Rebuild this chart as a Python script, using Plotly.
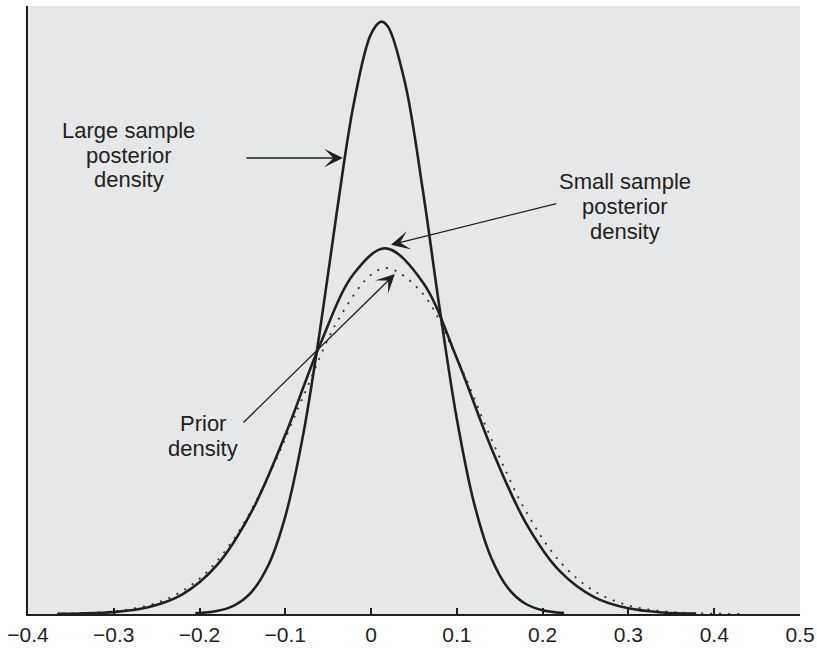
import plotly.graph_objects as go

# ---- data ----
large_x = [-0.205, -0.18, -0.16, -0.14, -0.12, -0.10, -0.08, -0.06, -0.04, -0.02, 0.0, 0.012,
           0.02, 0.04, 0.06, 0.08, 0.10, 0.12, 0.14, 0.16, 0.18, 0.20, 0.225]
large_y = [0.008, 0.034, 0.097, 0.247, 0.558, 1.125, 2.022, 3.239, 4.625, 5.887, 6.680, 6.820,
           6.757, 6.094, 4.898, 3.511, 2.242, 1.277, 0.648, 0.293, 0.118, 0.043, 0.010]

small_x = [-0.366, -0.34, -0.30, -0.26, -0.22, -0.18, -0.14, -0.10, -0.06, -0.02, 0.017,
           0.06, 0.10, 0.14, 0.18, 0.22, 0.26, 0.30, 0.34, 0.379]
small_y = [0.002, 0.006, 0.022, 0.077, 0.226, 0.559, 1.167, 2.064, 3.092, 3.920, 4.210,
           3.823, 2.942, 1.915, 1.056, 0.493, 0.195, 0.065, 0.018, 0.005]

prior_x = [-0.36, -0.32, -0.28, -0.24, -0.20, -0.16, -0.12, -0.08, -0.04, 0.0, 0.02,
           0.06, 0.10, 0.14, 0.18, 0.22, 0.26, 0.30, 0.34, 0.38, 0.43]
prior_y = [0.004, 0.017, 0.057, 0.164, 0.407, 0.864, 1.580, 2.484, 3.359, 3.906, 3.980,
           3.691, 2.944, 2.019, 1.191, 0.604, 0.264, 0.099, 0.032, 0.009, 0.001]

tick_vals = [-0.4, -0.3, -0.2, -0.1, 0.0, 0.1, 0.2, 0.3, 0.4, 0.5]
tick_text = ["\u22120.4", "\u22120.3", "\u22120.2", "\u22120.1", "0", "0.1", "0.2", "0.3", "0.4", "0.5"]

INK = "#231f20"
FONT = "Liberation Sans, Arial, Helvetica, sans-serif"

fig = go.Figure()
fig.add_trace(go.Scatter(x=prior_x, y=prior_y, mode="lines",
                         line=dict(color="#333333", width=1.8, dash="2px,7px", shape="spline"),
                         hoverinfo="skip"))
fig.add_trace(go.Scatter(x=small_x, y=small_y, mode="lines",
                         line=dict(color=INK, width=2.6, shape="spline"), hoverinfo="skip"))
fig.add_trace(go.Scatter(x=large_x, y=large_y, mode="lines",
                         line=dict(color=INK, width=2.6, shape="spline"), hoverinfo="skip"))

arrow_style = dict(showarrow=True, arrowhead=3, arrowsize=2.4, arrowwidth=1.3,
                   arrowcolor=INK, axref="x", ayref="y", xref="x", yref="y", text="")
annotations = [
    dict(x=-0.0329, y=5.25, ax=-0.1471, ay=5.25, **arrow_style),
    dict(x=0.0231, y=4.25, ax=0.2177, ay=4.73, **arrow_style),
    dict(x=0.0277, y=3.914, ax=-0.1506, ay=2.187, **arrow_style),
]

def label(x, y, txt):
    return dict(x=x, y=y, xref="x", yref="y", text=txt, showarrow=False,
                xanchor="center", yanchor="middle",
                font=dict(family=FONT, size=22, color=INK))

annotations += [
    label(-0.2823, 5.572, "Large sample"),
    label(-0.2823, 5.284, "posterior"),
    label(-0.2823, 4.997, "density"),
    label(0.2958, 4.985, "Small sample"),
    label(0.2958, 4.697, "posterior"),
    label(0.2958, 4.409, "density"),
    label(-0.196, 2.199, "Prior"),
    label(-0.196, 1.911, "density"),
]

fig.update_layout(
    width=817, height=649,
    margin=dict(l=28, r=17, t=6, b=35),
    paper_bgcolor="white", plot_bgcolor="#e6e7e9",
    showlegend=False,
    annotations=annotations,
    font=dict(family=FONT, color=INK),
)
fig.update_xaxes(range=[-0.4, 0.5], tickvals=tick_vals, ticktext=tick_text,
                 ticks="inside", ticklen=6, tickwidth=1.5, tickcolor=INK,
                 ticklabelstandoff=1, automargin=False,
                 showline=True, linewidth=2, linecolor=INK, showgrid=False, zeroline=False,
                 tickfont=dict(family=FONT, size=21, color=INK))
fig.update_yaxes(range=[0, 7.0], showticklabels=False, ticks="", showline=True,
                 automargin=False,
                 linewidth=2, linecolor=INK, showgrid=False, zeroline=False)

fig.write_html("out.html")
